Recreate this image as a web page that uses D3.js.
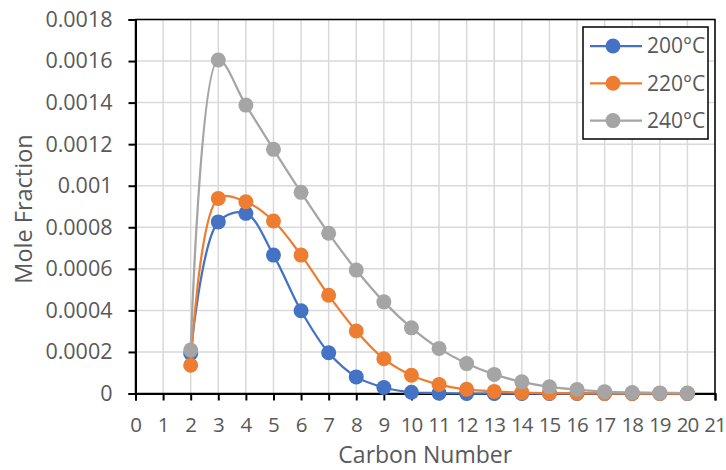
<!DOCTYPE html>
<html>
<head>
<meta charset="utf-8">
<script src="https://cdn.jsdelivr.net/npm/d3@7"></script>
<style>
  body { margin: 0; background: #fff; }
  svg { font-family: "Open Sans", sans-serif; }
</style>
</head>
<body>
<svg id="chart" width="726" height="470"></svg>
<script>
const carbon = d3.range(2, 21);
const s200 = [0.000193, 0.000826, 0.000867, 0.000666, 0.000398, 0.000196, 0.00008, 0.000029, 0.000006, 0.000002, 0, 0, 0, 0, 0, 0, 0, 0, 0];
const s220 = [0.000136, 0.000939, 0.000923, 0.00083, 0.000666, 0.000473, 0.000301, 0.000167, 0.000088, 0.000043, 0.00002, 0.00001, 0.000004, 0.000002, 0.000001, 0, 0, 0, 0];
const s240 = [0.000209, 0.001605, 0.001388, 0.001175, 0.000968, 0.000771, 0.000594, 0.000441, 0.000316, 0.000217, 0.000144, 0.000092, 0.000056, 0.000032, 0.000019, 0.000009, 0.000005, 0.000003, 0.000002];
const seriesNames = ["200°C", "220°C", "240°C"];
const colors = ["#4472C4", "#ED7D31", "#A5A5A5"];
const yTicks = [0, 0.0002, 0.0004, 0.0006, 0.0008, 0.001, 0.0012, 0.0014, 0.0016, 0.0018];
const xTicks = d3.range(0, 22);

const svg = d3.select("#chart");
const L = 135.5, R = 715, T = 19.5, B = 393.5;
const x = d3.scaleLinear().domain([0, 21]).range([L, R]);
const y = d3.scaleLinear().domain([0, 0.0018]).range([B, T]);
const txt = "#595959";

// grid
svg.append("g").selectAll("line").data(xTicks.slice(1)).enter().append("line")
  .attr("x1", d => x(d)).attr("x2", d => x(d)).attr("y1", T).attr("y2", B)
  .attr("stroke", "#d9d9d9").attr("stroke-width", 1.5);
svg.append("g").selectAll("line").data(yTicks.slice(1)).enter().append("line")
  .attr("x1", L).attr("x2", R).attr("y1", d => y(d)).attr("y2", d => y(d))
  .attr("stroke", "#d9d9d9").attr("stroke-width", 1.5);

// border
svg.append("rect").attr("x", L).attr("y", T).attr("width", R - L).attr("height", B - T)
  .attr("fill", "none").attr("stroke", "#000").attr("stroke-width", 1.5);

// axes
const yAxis = d3.axisLeft(y).tickValues(yTicks).tickSize(7).tickPadding(16)
  .tickFormat(d => d === 0 ? "0" : String(+d.toFixed(4)));
const gy = svg.append("g").attr("transform", `translate(${L},0)`).call(yAxis);
const xAxis = d3.axisBottom(x).tickValues(xTicks).tickSize(7).tickPadding(17).tickFormat(d3.format("d"));
const gx = svg.append("g").attr("transform", `translate(0,${B})`).call(xAxis);
[gy, gx].forEach(g => {
  g.select(".domain").attr("stroke", "#000").attr("stroke-width", 2);
  g.selectAll(".tick line").attr("stroke", "#000").attr("stroke-width", 2);
  g.selectAll(".tick text").attr("fill", txt).attr("font-size", 21.5).attr("font-family", "Open Sans, sans-serif");
});
// calibri-like narrow digits on the x axis so "21" stays inside
gx.selectAll(".tick text").attr("font-size", 20.5).attr("letter-spacing", "-1px").attr("dx", "-0.5");

// titles
svg.append("text").attr("x", x(10.5)).attr("y", 463).attr("text-anchor", "middle")
  .attr("fill", txt).attr("font-size", 23).text("Carbon Number");
svg.append("text").attr("transform", "translate(32,209) rotate(-90)").attr("text-anchor", "middle")
  .attr("fill", txt).attr("font-size", 23.5).text("Mole Fraction");

// series
const allSeries = [s200, s220, s240];
const line = d3.line().x((d, i) => x(carbon[i])).y(d => y(d)).curve(d3.curveCatmullRom.alpha(0.5));
allSeries.forEach((s, k) => {
  const g = svg.append("g");
  g.append("path").attr("d", line(s)).attr("fill", "none").attr("stroke", colors[k]).attr("stroke-width", 2.25);
  g.selectAll("circle").data(s).enter().append("circle")
    .attr("cx", (d, i) => x(carbon[i])).attr("cy", d => y(d)).attr("r", 7.5).attr("fill", colors[k]);
});

// legend
const lg = svg.append("g");
lg.append("rect").attr("x", 583).attr("y", 27).attr("width", 125).attr("height", 112)
  .attr("fill", "#fff").attr("stroke", "#000").attr("stroke-width", 1.5);
seriesNames.forEach((n, k) => {
  const cy = 46 + k * 37.3;
  lg.append("line").attr("x1", 590).attr("x2", 642).attr("y1", cy).attr("y2", cy)
    .attr("stroke", colors[k]).attr("stroke-width", 2.25);
  lg.append("circle").attr("cx", 613).attr("cy", cy).attr("r", 7.5).attr("fill", colors[k]);
  lg.append("text").attr("x", 647).attr("y", cy).attr("dy", "0.35em").attr("fill", txt)
    .attr("font-size", 21).text(n);
});
</script>
</body>
</html>
